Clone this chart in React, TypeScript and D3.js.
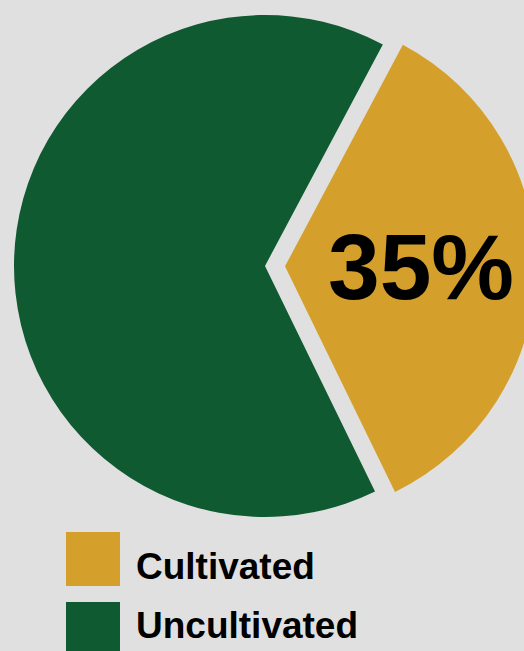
import React from "react";
import * as d3 from "d3";

const categories = ["Cultivated", "Uncultivated"];
const values = [35, 65];
const colors = ["#D4A02B", "#0F5A30"];
const labelText = ["35%", ""];

const W = 524;
const H = 651;

export default function App() {
  const cx = 265;
  const cy = 266;
  const R = 251;
  const explode = 20;
  const rot = (1 * Math.PI) / 180;
  const startAngle = Math.PI / 2 + rot - (values[0] / d3.sum(values)) * Math.PI;
  const pie = d3
    .pie<number>()
    .sort(null)
    .startAngle(startAngle)
    .endAngle(startAngle + 2 * Math.PI);
  const arcs = pie(values);
  const arc = d3.arc<d3.PieArcDatum<number>>().innerRadius(0).outerRadius(R);

  return (
    <div style={{ position: "fixed", left: 0, top: 0, width: W, height: H, background: "#E0E0E0" }}>
      <svg width={W} height={H} style={{ display: "block" }}>
        <rect width={W} height={H} fill="#E0E0E0" />
        {arcs.map((a, i) => {
          const mid = (a.startAngle + a.endAngle) / 2;
          const off = i === 0 ? explode : 0;
          const dx = Math.sin(mid) * off;
          const dy = -Math.cos(mid) * off;
          return (
            <g key={categories[i]} transform={`translate(${cx + dx},${cy + dy})`}>
              <path d={arc(a) || ""} fill={colors[i]} />
            </g>
          );
        })}
        <text
          x={421}
          y={299}
          textAnchor="middle"
          fontFamily="'Liberation Sans', Arial, sans-serif"
          fontWeight="bold"
          fontSize={93}
          fill="#000"
        >
          {labelText[0]}
        </text>
        {categories.map((c, i) => (
          <g key={c}>
            <rect x={66} y={532 + i * 70} width={54} height={54} fill={colors[i]} />
            <text
              x={136}
              y={579 + i * 59}
              fontFamily="'Liberation Sans', Arial, sans-serif"
              fontWeight="bold"
              fontSize={37}
              fill="#000"
            >
              {c}
            </text>
          </g>
        ))}
      </svg>
    </div>
  );
}
